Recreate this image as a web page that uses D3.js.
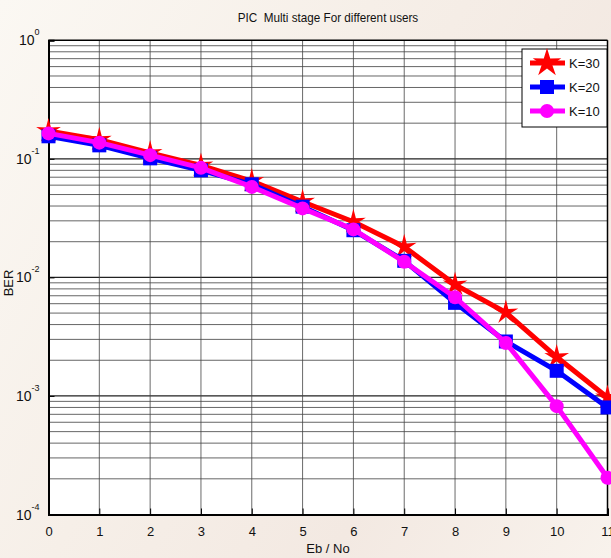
<!DOCTYPE html>
<html><head><meta charset="utf-8">
<script src="https://cdn.jsdelivr.net/npm/d3@7"></script>
<style>
html,body{margin:0;padding:0;}
body{width:611px;height:558px;overflow:hidden;background:linear-gradient(120deg,#fbf8f3 0%,#f6efe8 40%,#f3e9e2 70%,#f8f2ec 100%);}
text{font-family:"Liberation Sans",Arial,sans-serif;fill:#111;}
</style></head><body>
<svg id="c" width="611" height="558"></svg>
<script>
const ebno = [0,1,2,3,4,5,6,7,8,9,10,11];
const k30 = [0.172,0.145,0.112,0.088,0.065,0.0435,0.0295,0.0181,0.0087,0.00506,0.00213,0.00097];
const k20 = [0.155,0.130,0.101,0.080,0.061,0.0395,0.0250,0.0138,0.0061,0.00288,0.00163,0.00080];
const k10 = [0.164,0.137,0.1075,0.084,0.058,0.0382,0.0254,0.01354,0.0068,0.0028,0.00082,0.000204];
const xTicks = [0,1,2,3,4,5,6,7,8,9,10,11];
const yExps = [0,-1,-2,-3,-4];
const series = [
  {name:"K=30", values:k30, color:"#ff0000", marker:"star"},
  {name:"K=20", values:k20, color:"#0000ff", marker:"square"},
  {name:"K=10", values:k10, color:"#ff00ff", marker:"circle"}
];

const svg = d3.select("#c");
const L=48.5, R=607.5, T=40.3, B=514.5;
const x = d3.scaleLinear().domain([0,11]).range([L,R]);
const y = d3.scaleLog().domain([1e-4,1]).range([B,T]);

svg.append("rect").attr("x",L).attr("y",T).attr("width",R-L).attr("height",B-T).attr("fill","#fff");

// grid
const g = svg.append("g");
const minor=[];
for(let e=-4;e<0;e++) for(let m=1;m<10;m++) minor.push(m*Math.pow(10,e));
const isMajor = d=>Math.abs(Math.log10(d)-Math.round(Math.log10(d)))<1e-9;
g.selectAll("line.hy").data(minor).join("line")
  .attr("x1",L).attr("x2",R).attr("y1",d=>y(d)).attr("y2",d=>y(d))
  .attr("stroke",d=>isMajor(d)?"#222":"#666").attr("stroke-width",d=>isMajor(d)?1.2:1);
g.selectAll("line.vx").data(xTicks).join("line")
  .attr("x1",d=>x(d)).attr("x2",d=>x(d)).attr("y1",T).attr("y2",B)
  .attr("stroke","#444").attr("stroke-width",0.8);

// axes
const xa = svg.append("g").attr("transform",`translate(0,${B})`)
  .call(d3.axisBottom(x).tickValues(xTicks).tickSize(-6).tickPadding(12).tickFormat(d3.format("d")));
xa.select(".domain").attr("stroke","#000").attr("stroke-width",2);
xa.selectAll("text").attr("font-size",13).attr("font-family","Liberation Sans, Arial, sans-serif").attr("fill","#222");
const ya = svg.append("g").attr("transform",`translate(${L},0)`)
  .call(d3.axisLeft(y).tickValues(yExps.map(e=>Math.pow(10,e))).tickSize(-6).tickFormat(""));
ya.select(".domain").attr("stroke","#000").attr("stroke-width",2);
svg.append("line").attr("x1",L).attr("x2",R).attr("y1",T).attr("y2",T).attr("stroke","#000").attr("stroke-width",1.5);
svg.append("line").attr("x1",R).attr("x2",R).attr("y1",T).attr("y2",B).attr("stroke","#000").attr("stroke-width",1.5);

// y tick labels 10^e
yExps.forEach(e=>{
  const t = svg.append("text").attr("x",L-9).attr("y",y(Math.pow(10,e))+5)
    .attr("text-anchor","end").attr("font-size",14).attr("fill","#222");
  t.append("tspan").text("10");
  t.append("tspan").attr("dy",-10).attr("font-size",9).text(e);
});

// title & labels
svg.append("text").attr("y",22).attr("text-anchor","middle").attr("font-size",13).attr("fill","#222")
  .style("white-space","pre")
  .attr("transform","scale(0.9,1)").attr("x",328/0.9).text("PIC  Multi stage For different users");
svg.append("text").attr("x",328).attr("y",553).attr("text-anchor","middle").attr("font-size",13).attr("fill","#222").text("Eb / No");
svg.append("text").attr("transform","translate(13,283) rotate(-90)").attr("text-anchor","middle").attr("font-size",13).attr("fill","#222").text("BER");

// lines
const line = d3.line().x((d,i)=>x(ebno[i])).y(d=>y(d));
function starD(ro, ri){
  const pts=[];
  for(let i=0;i<10;i++){
    const a = -Math.PI/2 + i*Math.PI/5;
    const r = i%2===0 ? ro : ri;
    pts.push([r*Math.cos(a), r*Math.sin(a)]);
  }
  return "M"+pts.map(p=>p.join(",")).join("L")+"Z";
}
function drawMarker(sel, m, color, cx, cy, big){
  if(m==="star") sel.append("path").attr("d",big?starD(15,5.5):starD(13,4.2)).attr("transform",`translate(${cx},${cy})`).attr("fill",color);
  else if(m==="square") sel.append("rect").attr("x",cx-7).attr("y",cy-7).attr("width",14).attr("height",14).attr("fill",color);
  else sel.append("circle").attr("cx",cx).attr("cy",cy).attr("r",7).attr("fill",color);
}
series.forEach(s=>{
  const gs = svg.append("g");
  gs.append("path").attr("d",line(s.values)).attr("fill","none").attr("stroke",s.color).attr("stroke-width",5).attr("stroke-linejoin","round");
  s.values.forEach((v,i)=>drawMarker(gs,s.marker,s.color,x(ebno[i]),y(v),false));
});

// legend
const lg = svg.append("g");
lg.append("rect").attr("x",522).attr("y",49).attr("width",85).attr("height",78).attr("fill","#fff").attr("stroke","#000").attr("stroke-width",1);
series.forEach((s,i)=>{
  const cy = 63 + i*24;
  lg.append("line").attr("x1",530).attr("x2",565).attr("y1",cy).attr("y2",cy).attr("stroke",s.color).attr("stroke-width",5);
  drawMarker(lg,s.marker,s.color,547,cy,true);
  lg.append("text").attr("x",569).attr("y",cy+5).attr("font-size",13).attr("fill","#222").text(s.name);
});
</script>
</body></html>
